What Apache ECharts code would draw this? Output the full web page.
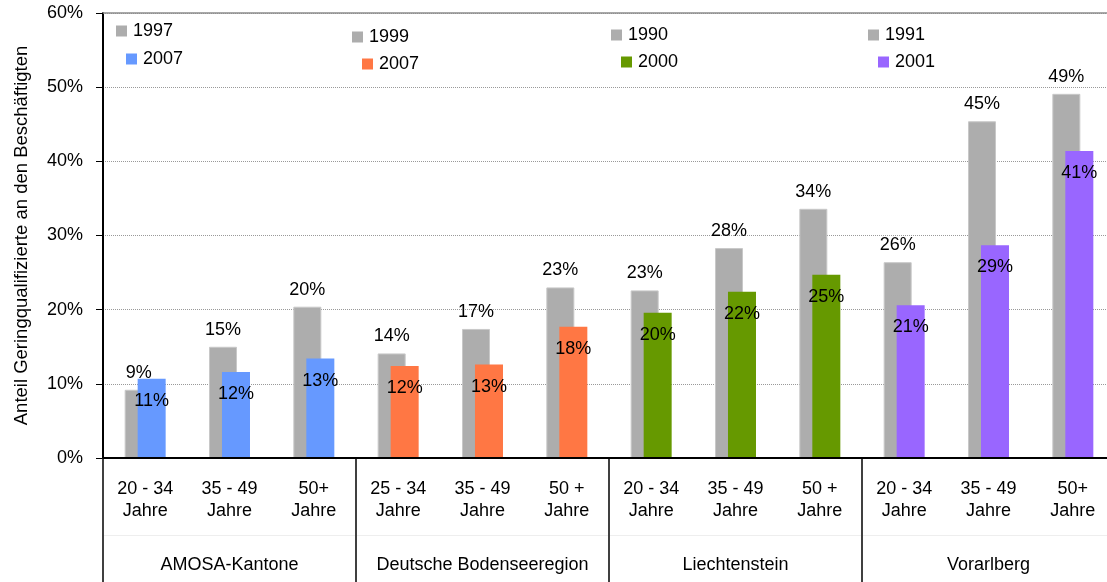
<!DOCTYPE html>
<html>
<head>
<meta charset="utf-8">
<script src="https://cdn.jsdelivr.net/npm/echarts@6/dist/echarts.min.js"></script>
<style>html,body{margin:0;padding:0;background:#fff;overflow:hidden;width:1107px;height:582px}#c{width:1115px;height:582px}</style>
</head>
<body>
<div id="c"></div>
<script>
const categories = ['20 - 34\nJahre','35 - 49\nJahre','50+\nJahre','25 - 34\nJahre','35 - 49\nJahre','50 +\nJahre','20 - 34\nJahre','35 - 49\nJahre','50 +\nJahre','20 - 34\nJahre','35 - 49\nJahre','50+\nJahre'];
const regions = ['AMOSA-Kantone','Deutsche Bodenseeregion','Liechtenstein','Vorarlberg'];
const earlierYears = ['1997','1999','1990','1991'];
const laterYears = ['2007','2007','2000','2001'];
const earlierValues = [9.2,15.0,20.4, 14.1,17.4,23.0, 22.6,28.3,33.6, 26.4,45.4,49.1];
const laterValues = [10.7,11.6,13.4, 12.4,12.6,17.7, 19.6,22.4,24.7, 20.6,28.7,41.4];
const yAxisTitle = 'Anteil Geringqualifizierte an den Beschäftigten';

const FONT = 'Liberation Sans';
const grayColor = '#ADADAD';
const laterColors = ['#6699FF','#FF7744','#669900','#9966FF'];
// legend placement (left, top) for [earlier, later] item of each region
const legendPos = [[[116,22],[126,50]],[[352,28],[362,55]],[[611,26],[621,53]],[[868,26],[878,53]]];

const series = [];
const legends = [];
regions.forEach((r, g) => {
  const nm = r + '|' + earlierYears[g];
  series.push({
    name: nm, type: 'bar', stack: 'old', barWidth: 28, barGap: '-53.6%',
    data: earlierValues.map((v, i) => Math.floor(i / 3) === g ? v : '-'),
    itemStyle: { color: grayColor, borderColor: '#C8C8C8', borderWidth: 1 },
    label: { show: true, position: 'top', distance: 8, color: '#000', fontFamily: FONT, fontSize: 18,
      formatter: p => Math.round(p.value) + '%' },
    z: 2
  });
});
regions.forEach((r, g) => {
  const nm = r + '|' + laterYears[g];
  series.push({
    name: nm, type: 'bar', stack: 'new', barWidth: 28, barGap: '-53.6%',
    data: laterValues.map((v, i) => Math.floor(i / 3) === g ? v : '-'),
    itemStyle: { color: laterColors[g] },
    label: { show: true, position: 'insideTop', distance: 13, color: '#000', fontFamily: FONT, fontSize: 18,
      formatter: p => Math.round(p.value) + '%' },
    z: 3
  });
});
regions.forEach((r, g) => {
  [r + '|' + earlierYears[g], r + '|' + laterYears[g]].forEach((nm, k) => {
    legends.push({
      data: [nm], left: legendPos[g][k][0], top: legendPos[g][k][1], padding: 0,
      icon: 'rect', itemWidth: 11, itemHeight: 11, selectedMode: false,
      itemStyle: { borderWidth: 0 },
      formatter: n => n.split('|')[1],
      textStyle: { fontFamily: FONT, fontSize: 18, color: '#000', padding: [0, 0, 0, 1] }
    });
  });
});

const chart = echarts.init(document.getElementById('c'), null, { renderer: 'canvas' });
chart.setOption({
  animation: false,
  backgroundColor: '#fff',
  legend: legends,
  grid: { left: 103, top: 13, right: 0, bottom: 124, containLabel: false },
  xAxis: [
    { type: 'category', data: categories, position: 'bottom',
      axisLine: { lineStyle: { color: '#000', width: 2 } }, axisTick: { show: false },
      axisLabel: { interval: 0, margin: 20, color: '#000', fontFamily: FONT, fontSize: 18, lineHeight: 22 },
      z: 5 },
    { type: 'category', data: regions, position: 'bottom', offset: 0,
      axisLine: { show: false },
      axisTick: { show: true, length: 125, interval: 0, lineStyle: { color: '#404040', width: 2 } },
      axisLabel: { interval: 0, margin: 96, color: '#000', fontFamily: FONT, fontSize: 18, lineHeight: 22 } },
    { type: 'category', data: regions, position: 'bottom', offset: 77,
      axisLine: { show: true, lineStyle: { color: '#EEEEEE', width: 1 } },
      axisTick: { show: false }, axisLabel: { show: false } },
    { type: 'category', data: regions, position: 'top',
      axisLine: { show: true, lineStyle: { color: '#8C8C8C', width: 1.5 } },
      axisTick: { show: false }, axisLabel: { show: false } }
  ],
  yAxis: {
    type: 'value', min: 0, max: 60, interval: 10,
    name: yAxisTitle, nameLocation: 'middle', nameGap: 72,
    nameTextStyle: { fontFamily: FONT, fontSize: 18.5, color: '#000' },
    axisLine: { show: true, lineStyle: { color: '#000', width: 2 } },
    axisTick: { show: true, length: 7, lineStyle: { color: '#000', width: 1 } },
    axisLabel: { formatter: '{value}%', margin: 20, color: '#000', fontFamily: FONT, fontSize: 18 },
    splitLine: { show: true, lineStyle: { color: '#999', type: 'dotted', width: 1 } }
  },
  series: series
});
</script>
</body>
</html>
